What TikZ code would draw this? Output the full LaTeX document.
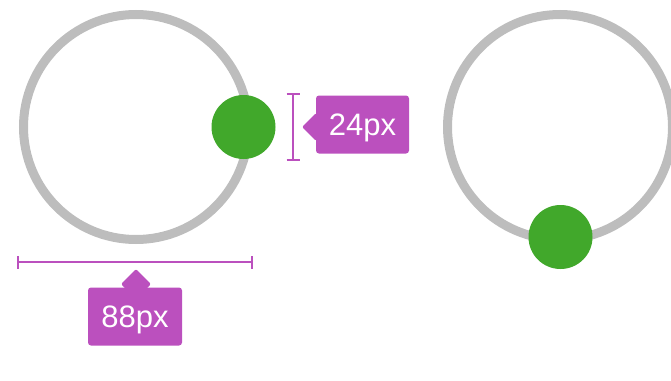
\documentclass[tikz,border=0pt]{standalone}
\usepackage{fontspec}
\setmainfont{Liberation Sans}
\usetikzlibrary{shapes.geometric}
\definecolor{ringgray}{HTML}{BDBDBD}
\definecolor{dotgreen}{HTML}{41A82B}
\definecolor{tagmag}{HTML}{BB50BE}
\tikzset{
  ring/.style={draw=ringgray, line width=9pt},
  dot/.style={circle, fill=dotgreen, minimum size=64pt, inner sep=0pt},
  dimline/.style={draw=tagmag, line width=2.8pt},
  tagbox/.style={fill=tagmag, rounded corners=3pt, text=white, font=\fontsize{31}{31}\selectfont, inner sep=0pt, text height=22.2pt, text depth=0pt},
  tagtip/.style={fill=tagmag, rounded corners=2pt},
}
\begin{document}
\begin{tikzpicture}[x=1pt,y=-1pt]
\useasboundingbox (0,0) rectangle (671,380);
\clip (0,0) rectangle (671,380);
% left control
\draw[ring] (136,127) circle (112.5);
\node[dot] (dotA) at (243.5,127) {};
% right control
\draw[ring] (560,127) circle (112.5);
\node[dot] (dotB) at (560.5,237) {};
% vertical dimension
\coordinate (vt) at (293,94);
\coordinate (vb) at (293,160);
\draw[dimline] (vt) -- (vb);
\draw[dimline] ([xshift=-6.5pt]vt) -- ([xshift=6.5pt]vt);
\draw[dimline] ([xshift=-6.5pt]vb) -- ([xshift=6.5pt]vb);
% 24px tag
\fill[tagtip] (302,127) -- (316,113) -- (330,127) -- (316,141) -- cycle;
\node[tagbox, minimum width=93pt, minimum height=58pt] (t24) at (362.5,124.5) {24px};
% horizontal dimension
\coordinate (hl) at (18,262);
\coordinate (hr) at (252,262);
\draw[dimline] (hl) -- (hr);
\draw[dimline] ([yshift=-6.5pt]hl) -- ([yshift=6.5pt]hl);
\draw[dimline] ([yshift=-6.5pt]hr) -- ([yshift=6.5pt]hr);
% 88px tag
\fill[tagtip] (136,269) -- (151,284) -- (136,299) -- (121,284) -- cycle;
\node[tagbox, minimum width=94pt, minimum height=58pt] (t88) at (135,316.5) {88px};
\end{tikzpicture}
\end{document}
